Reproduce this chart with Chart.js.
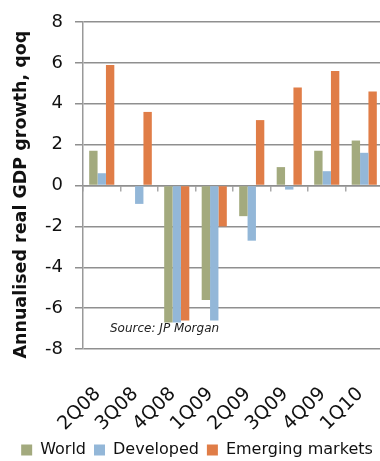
<!DOCTYPE html>
<html>
<head>
<meta charset="utf-8">
<script src="https://cdn.jsdelivr.net/npm/chart.js@4"></script>
<style>
  html, body { margin: 0; padding: 0; background: #fff; overflow: hidden; }
  #wrap { position: relative; width: 380px; height: 461px; overflow: hidden; }
</style>
</head>
<body>
<div id="wrap"><canvas id="c" width="390" height="468"></canvas></div>
<script>
// Quarterly annualised real GDP growth (% qoq)
const quarters = ['2Q08', '3Q08', '4Q08', '1Q09', '2Q09', '3Q09', '4Q09', '1Q10'];
const world = [1.7, 0.0, -6.7, -5.6, -1.5, 0.9, 1.7, 2.2];
const developed = [0.6, -0.9, -6.7, -6.6, -2.7, -0.2, 0.7, 1.6];
const emerging = [5.9, 3.6, -6.6, -2.0, 3.2, 4.8, 5.6, 4.6];
const yTicks = [8, 6, 4, 2, 0, -2, -4, -6, -8];

const FONT = "'DejaVu Sans', sans-serif";
const GRID = '#8f8f8f';

// Source note written inside the plot area
const sourceNote = {
  id: 'sourceNote',
  afterDatasetsDraw(chart) {
    const { ctx, chartArea, scales } = chart;
    ctx.save();
    ctx.font = "italic 12px " + FONT;
    ctx.fillStyle = '#222';
    ctx.textBaseline = 'middle';
    ctx.fillText('Source: JP Morgan', chartArea.left + 27, scales.y.getPixelForValue(-7.0));
    ctx.restore();
  }
};

new Chart(document.getElementById('c'), {
  type: 'bar',
  data: {
    labels: quarters,
    datasets: [
      { label: 'World', data: world, backgroundColor: '#A3AA7E' },
      { label: 'Developed', data: developed, backgroundColor: '#93B7D8' },
      { label: 'Emerging markets', data: emerging, backgroundColor: '#E07D47' }
    ]
  },
  options: {
    responsive: false,
    animation: false,
    devicePixelRatio: 1,
    layout: { padding: { top: 22, right: 7, bottom: 0, left: 11 } },
    datasets: { bar: { categoryPercentage: 0.67, barPercentage: 1.0 } },
    plugins: {
      tooltip: { enabled: false },
      legend: {
        position: 'bottom',
        labels: {
          color: '#111',
          font: { family: FONT, size: 16 },
          boxWidth: 11,
          boxHeight: 11,
          padding: 8
        }
      }
    },
    scales: {
      x: {
        grid: { display: false, drawOnChartArea: false },
        border: { display: false },
        ticks: {
          color: '#111',
          font: { family: FONT, size: 19 },
          minRotation: 45,
          maxRotation: 45,
          padding: 26,
          labelOffset: -4
        },
        afterFit(s) {
          s.height = 85;
          s.paddingLeft = 0;
          s.paddingRight = 0;
        }
      },
      // category boundary tick marks along the zero line
      xZero: {
        type: 'category',
        labels: quarters,
        position: { y: 0 },
        offset: true,
        grid: {
          offset: true,
          drawOnChartArea: false,
          drawTicks: true,
          tickLength: 5,
          color: '#aaa',
          lineWidth: 1.5
        },
        border: { color: GRID, width: 1.5 },
        ticks: { display: false }
      },
      y: {
        min: -8,
        max: 8,
        afterBuildTicks(s) { s.ticks = yTicks.map(v => ({ value: v })); },
        grid: {
          color: GRID,
          lineWidth: 1.5,
          drawTicks: true,
          tickLength: 8
        },
        border: { color: '#999', width: 1.5 },
        ticks: {
          color: '#111',
          font: { family: FONT, size: 18 },
          padding: 12
        },
        title: {
          display: true,
          text: 'Annualised real GDP growth, qoq\u00A0\u00A0\u00A0',
          color: '#111',
          font: { family: FONT, size: 17.5, weight: 'bold' },
          padding: { top: 0, bottom: 2 }
        },
        afterFit(s) {
          s.width = 72;
          s.paddingTop = 0;
          s.paddingBottom = 0;
        }
      }
    }
  },
  plugins: [sourceNote]
});
</script>
</body>
</html>
